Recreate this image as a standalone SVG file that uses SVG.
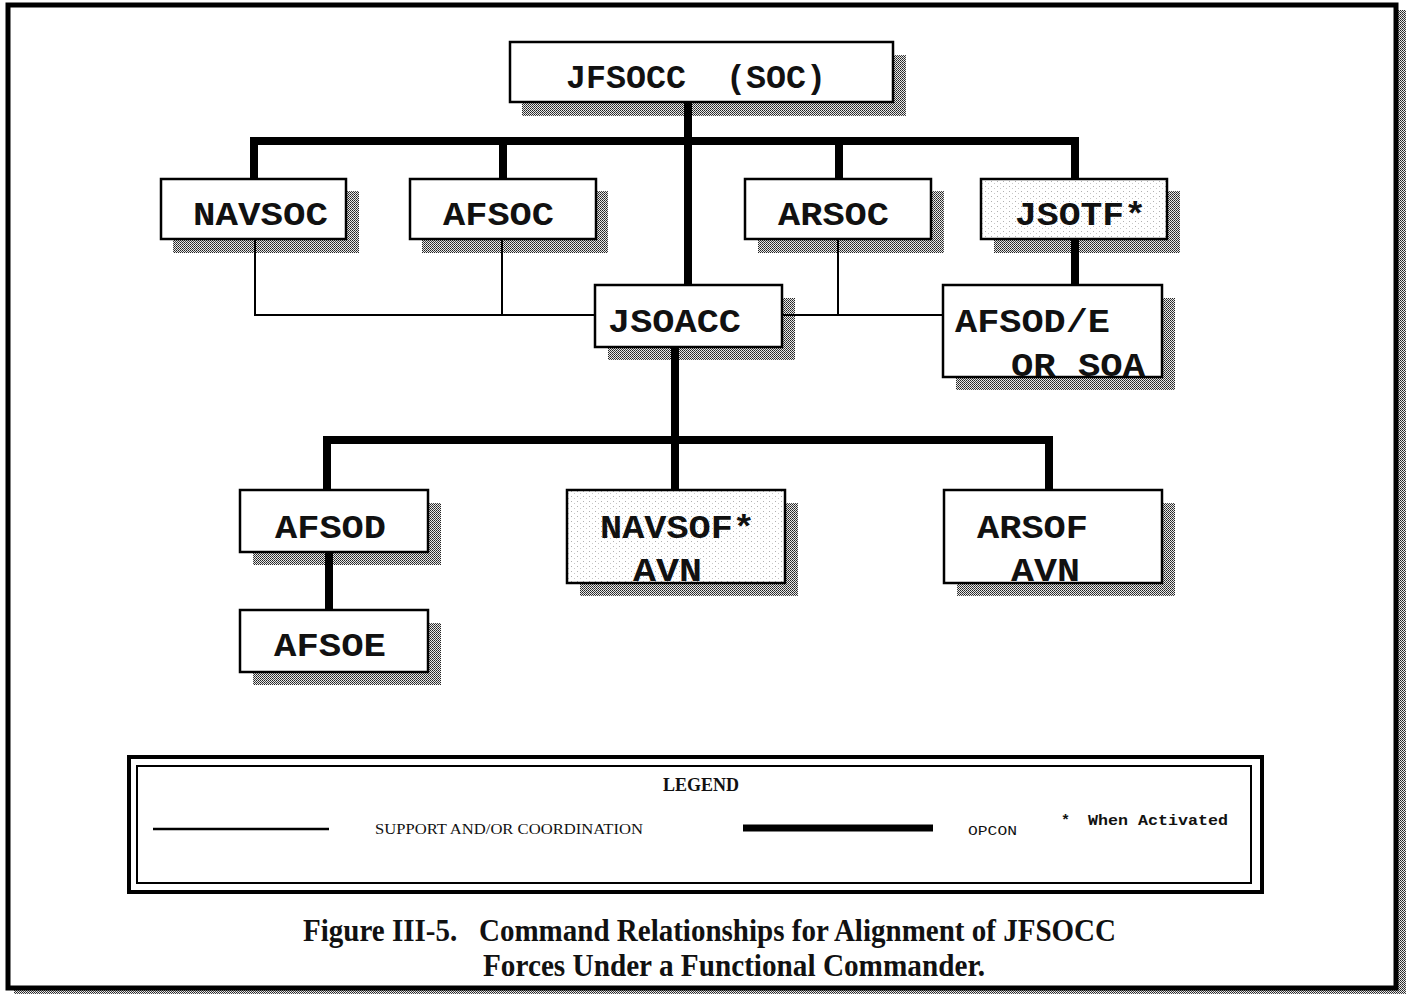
<svg xmlns="http://www.w3.org/2000/svg" width="1409" height="994" viewBox="0 0 1409 994">
  <defs>
    <!-- halftone used for drop shadows -->
    <pattern id="halftone" width="2" height="2" patternUnits="userSpaceOnUse">
      <rect width="2" height="2" fill="#e8e8e8"/>
      <rect width="1" height="1" fill="#222222"/>
      <rect x="1" y="1" width="1" height="1" fill="#444444"/>
    </pattern>
    <!-- light stipple for boxes that exist only when activated -->
    <pattern id="stipple" width="6" height="5" patternUnits="userSpaceOnUse">
      <rect width="6" height="5" fill="#ffffff"/>
      <rect x="1" y="1" width="1" height="1" fill="#b0b0b0"/>
      <rect x="4" y="3" width="1" height="1" fill="#c8c8c8"/>
    </pattern>
    <style>
      .box { fill: #ffffff; stroke: #000000; stroke-width: 2.5; }
      .act { fill: url(#stipple); stroke: #000000; stroke-width: 2.5; }
      .shadow { fill: url(#halftone); }
      .lbl { font-family: "Liberation Mono", "Courier New", monospace; font-weight: bold; font-size: 34px; fill: #111111; }
      .opcon { stroke: #000000; stroke-width: 8; fill: none; stroke-linecap: square; }
      .support { stroke: #000000; stroke-width: 2; fill: none; }
      .legtxt { font-family: "Liberation Serif", "Times New Roman", serif; fill: #111111; }
      .mono { font-family: "Liberation Mono", "Courier New", monospace; fill: #111111; }
      .cap { font-family: "Liberation Serif", "Times New Roman", serif; font-weight: bold; font-size: 31px; fill: #111111; }
    </style>
  </defs>

  <rect width="1409" height="994" fill="#ffffff"/>

  <!-- page frame with halftone edge -->
  <rect x="1398" y="10" width="8" height="984" class="shadow"/>
  <rect x="14" y="990" width="1392" height="4" class="shadow"/>
  <rect x="8" y="5" width="1388" height="983" fill="none" stroke="#000000" stroke-width="5"/>

  <!-- drop shadows behind every box -->
  <g id="shadows">
    <rect x="522" y="55" width="384" height="61" class="shadow"/>
    <rect x="173" y="191" width="186" height="62" class="shadow"/>
    <rect x="422" y="191" width="186" height="62" class="shadow"/>
    <rect x="758" y="191" width="186" height="62" class="shadow"/>
    <rect x="994" y="191" width="186" height="62" class="shadow"/>
    <rect x="608" y="298" width="187" height="62" class="shadow"/>
    <rect x="956" y="298" width="219" height="92" class="shadow"/>
    <rect x="253" y="503" width="188" height="62" class="shadow"/>
    <rect x="580" y="503" width="218" height="93" class="shadow"/>
    <rect x="957" y="503" width="218" height="93" class="shadow"/>
    <rect x="253" y="623" width="188" height="62" class="shadow"/>
  </g>

  <!-- connectors: thick = OPCON, thin = support / coordination -->
  <g id="connectors">
    <path class="opcon" d="M688 102 V285"/>
    <path class="opcon" d="M254 178 V141 H1075 V178"/>
    <path class="opcon" d="M503 141 V178"/>
    <path class="opcon" d="M839 141 V178"/>
    <path class="opcon" d="M1075 239 V285"/>
    <path class="opcon" d="M675 347 V490"/>
    <path class="opcon" d="M327 490 V440 H1049 V490"/>
    <path class="opcon" d="M329 552 V610"/>
    <path class="support" d="M255 239 V315 H595"/>
    <path class="support" d="M502 239 V315"/>
    <path class="support" d="M782 315 H943"/>
    <path class="support" d="M838 239 V315"/>
  </g>

  <g id="jfsocc">
    <rect x="510" y="42" width="383" height="60" class="box"/>
    <text x="566" y="88" class="lbl" xml:space="preserve" textLength="260" lengthAdjust="spacingAndGlyphs">JFSOCC  (SOC)</text>
  </g>
  <g id="navsoc">
    <rect x="161" y="179" width="185" height="60" class="box"/>
    <text x="193" y="225" class="lbl" textLength="135" lengthAdjust="spacingAndGlyphs">NAVSOC</text>
  </g>
  <g id="afsoc">
    <rect x="410" y="179" width="186" height="60" class="box"/>
    <text x="443" y="225" class="lbl" textLength="111" lengthAdjust="spacingAndGlyphs">AFSOC</text>
  </g>
  <g id="arsoc">
    <rect x="745" y="179" width="186" height="60" class="box"/>
    <text x="778" y="225" class="lbl" textLength="111" lengthAdjust="spacingAndGlyphs">ARSOC</text>
  </g>
  <g id="jsotf">
    <rect x="981" y="179" width="186" height="60" class="act"/>
    <text x="1015" y="225" class="lbl" textLength="131" lengthAdjust="spacingAndGlyphs">JSOTF*</text>
  </g>
  <g id="jsoacc">
    <rect x="595" y="285" width="187" height="62" class="box"/>
    <text x="608" y="332" class="lbl" textLength="133" lengthAdjust="spacingAndGlyphs">JSOACC</text>
  </g>
  <g id="afsod-e">
    <rect x="943" y="285" width="219" height="92" class="box"/>
    <text x="955" y="332" class="lbl" textLength="155" lengthAdjust="spacingAndGlyphs">AFSOD/E</text>
    <text x="1011" y="376" class="lbl" xml:space="preserve" textLength="134" lengthAdjust="spacingAndGlyphs">OR SOA</text>
  </g>
  <g id="afsod">
    <rect x="240" y="490" width="188" height="62" class="box"/>
    <text x="275" y="538" class="lbl" textLength="111" lengthAdjust="spacingAndGlyphs">AFSOD</text>
  </g>
  <g id="navsof">
    <rect x="567" y="490" width="218" height="93" class="act"/>
    <text x="600" y="538" class="lbl" textLength="155" lengthAdjust="spacingAndGlyphs">NAVSOF*</text>
    <text x="633" y="581" class="lbl" textLength="69" lengthAdjust="spacingAndGlyphs">AVN</text>
  </g>
  <g id="arsof">
    <rect x="944" y="490" width="218" height="93" class="box"/>
    <text x="977" y="538" class="lbl" textLength="111" lengthAdjust="spacingAndGlyphs">ARSOF</text>
    <text x="1011" y="581" class="lbl" textLength="69" lengthAdjust="spacingAndGlyphs">AVN</text>
  </g>
  <g id="afsoe">
    <rect x="240" y="610" width="188" height="62" class="box"/>
    <text x="274" y="656" class="lbl" textLength="112" lengthAdjust="spacingAndGlyphs">AFSOE</text>
  </g>

  <!-- legend panel -->
  <g id="legend">
    <rect x="129" y="757" width="1133" height="135" fill="#ffffff" stroke="#000000" stroke-width="4"/>
    <rect x="137" y="766" width="1114" height="117" fill="none" stroke="#000000" stroke-width="2"/>
    <text x="701" y="791" class="legtxt" font-size="18" font-weight="bold" text-anchor="middle">LEGEND</text>
    <line x1="153" y1="829" x2="329" y2="829" stroke="#000000" stroke-width="2.5"/>
    <text x="375" y="834" class="legtxt" font-size="15" textLength="268" lengthAdjust="spacingAndGlyphs">SUPPORT AND/OR COORDINATION</text>
    <line x1="743" y1="828" x2="933" y2="828" stroke="#000000" stroke-width="7"/>
    <text x="968" y="835" class="mono" font-size="13" textLength="49" lengthAdjust="spacingAndGlyphs">OPCON</text>
    <text x="1061" y="825" class="mono" font-size="15" font-weight="bold">*</text>
    <text x="1088" y="825" class="mono" font-size="15" font-weight="bold" textLength="140" lengthAdjust="spacingAndGlyphs">When Activated</text>
  </g>

  <!-- figure caption -->
  <g id="caption">
    <text x="303" y="941" class="cap" textLength="813" lengthAdjust="spacingAndGlyphs" xml:space="preserve">Figure III-5.   Command Relationships for Alignment of JFSOCC</text>
    <text x="483" y="976" class="cap" textLength="502" lengthAdjust="spacingAndGlyphs">Forces Under a Functional Commander.</text>
  </g>
</svg>
